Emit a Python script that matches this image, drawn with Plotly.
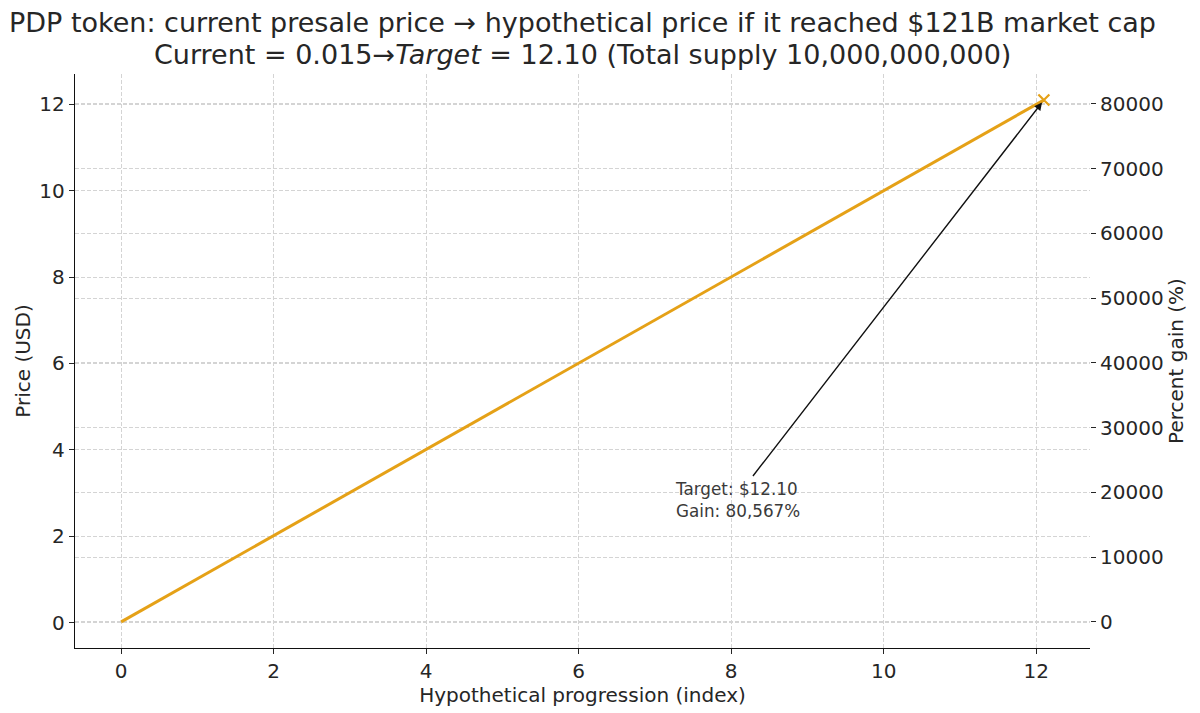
import plotly.graph_objects as go

# ---- data ----
x_index = [0, 12.1]
price_usd = [0.015, 12.10]
current_price = 0.015
target_price = 12.10
gain_pct_target = 80567

x_ticks = [0, 2, 4, 6, 8, 10, 12]
y_ticks = [0, 2, 4, 6, 8, 10, 12]
y2_ticks = [0, 10000, 20000, 30000, 40000, 50000, 60000, 70000, 80000]
y2_labels = ["0", "10000", "20000", "30000", "40000", "50000", "60000", "70000", "80000"]

title_1 = "PDP token: current presale price \u2192 hypothetical price if it reached $121B market cap"
title_2 = "Current = 0.015\u2192<i>Target</i> = 12.10 (Total supply 10,000,000,000)"
annot_text = "Target: $12.10<br>Gain: 80,567%"

# ---- styling ----
FONT = "DejaVu Sans"
TXT = "#262626"
LINE_C = "#E5A117"
GRID_C = "#d4d4d4"
W, H = 1200, 713
ML, MR, MT, MB = 75, 110, 74, 65
PH = H - MT - MB

def pct(p):
    return (p / current_price - 1) * 100

# matplotlib-like 5% margins
xspan = x_index[-1] - x_index[0]
xr = [x_index[0] - 0.05 * xspan, x_index[-1] + 0.05 * xspan]
yspan = price_usd[-1] - price_usd[0]
yr = [price_usd[0] - 0.05 * yspan, price_usd[-1] + 0.05 * yspan]
y2r = [pct(yr[0]), pct(yr[1])]

fig = go.Figure()
fig.add_trace(go.Scatter(x=x_index, y=price_usd, mode="lines",
                         line=dict(color=LINE_C, width=3),
                         showlegend=False, hoverinfo="skip"))
fig.add_trace(go.Scatter(x=[x_index[-1]], y=[target_price], mode="markers",
                         marker=dict(symbol="x-thin", size=11,
                                     line=dict(color=LINE_C, width=2.2)),
                         showlegend=False, hoverinfo="skip"))
# invisible trace on the right axis (percent gain)
fig.add_trace(go.Scatter(x=[x_index[0], x_index[-1]], y=[0, gain_pct_target],
                         mode="lines", line=dict(color="rgba(0,0,0,0)", width=1),
                         yaxis="y2", showlegend=False, hoverinfo="skip"))

# arrow
fig.add_annotation(x=x_index[-1], y=target_price, ax=8.27, ay=3.36,
                   xref="x", yref="y", axref="x", ayref="y",
                   text="", showarrow=True, arrowhead=2, arrowsize=1.1,
                   arrowwidth=1.4, arrowcolor="#111111", standoff=3)
# annotation text
fig.add_annotation(x=7.24, y=2.30, xref="x", yref="y", text=annot_text,
                   showarrow=False, xanchor="left", yanchor="bottom", align="left",
                   font=dict(family=FONT, size=16.8, color="#3a3a3a"))

# two-line title as annotations
fig.add_annotation(x=0.5, xref="paper", y=(H - MB - 22) / PH, yref="paper",
                   text=title_1, showarrow=False, xanchor="center", yanchor="middle",
                   font=dict(family=FONT, size=27, color=TXT))
fig.add_annotation(x=0.5, xref="paper", y=(H - MB - 54) / PH, yref="paper",
                   text=title_2, showarrow=False, xanchor="center", yanchor="middle",
                   font=dict(family=FONT, size=27, color=TXT))

axis_common = dict(
    showgrid=True, gridcolor=GRID_C, griddash="4px,2px", gridwidth=0.9,
    zeroline=False, ticks="outside", ticklen=5, tickwidth=1.2, tickcolor=TXT,
    tickfont=dict(family=FONT, size=20, color=TXT), automargin=False,
)

fig.update_layout(
    width=W, height=H,
    plot_bgcolor="white", paper_bgcolor="white",
    margin=dict(l=ML, r=MR, t=MT, b=MB, autoexpand=False),
    xaxis=dict(range=xr, tickvals=x_ticks, showline=True, linecolor="#111111",
               linewidth=1.4, mirror=False,
               title=dict(text="Hypothetical progression (index)", standoff=0,
                          font=dict(family=FONT, size=20, color=TXT)),
               **axis_common),
    yaxis=dict(range=yr, tickvals=y_ticks, showline=True, linecolor="#111111",
               linewidth=1.4, mirror=False,
               title=dict(text="Price (USD)", standoff=3,
                          font=dict(family=FONT, size=20, color=TXT)),
               **axis_common),
    yaxis2=dict(range=y2r, tickvals=y2_ticks, ticktext=y2_labels, overlaying="y",
                side="right", showline=False,
                title=dict(text="Percent gain (%)", standoff=5,
                           font=dict(family=FONT, size=20, color=TXT)),
                **axis_common),
)

fig.write_html("out.html", config={"displayModeBar": False},
               post_script="document.body.style.margin='0';")
